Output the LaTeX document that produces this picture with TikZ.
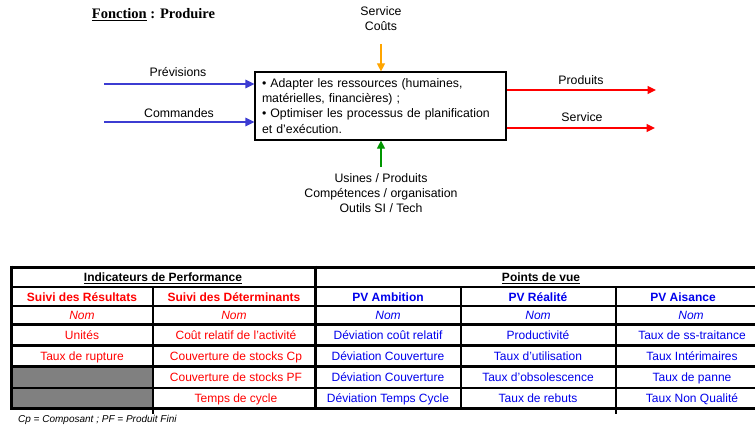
\documentclass[tikz,border=0pt]{standalone}
\usepackage{fontspec}
\setmainfont{Liberation Sans}
\newfontfamily\titlefont{Liberation Serif}
\usetikzlibrary{arrows.meta}
\definecolor{arrblue}{RGB}{60,60,210}
\definecolor{arrred}{RGB}{255,0,0}
\definecolor{arrorange}{RGB}{255,165,0}
\definecolor{arrgreen}{RGB}{0,150,0}
\definecolor{txtred}{RGB}{255,0,0}
\definecolor{txtblue}{RGB}{0,0,235}
\definecolor{cellgray}{RGB}{128,128,128}
\tikzset{
  lbl/.style={inner sep=0pt, font=\fontsize{12.3}{15}\selectfont},
  flow/.style={line width=1.5pt, -{Triangle[length=9pt,width=8.5pt]}},
  cell/.style={inner sep=0pt, anchor=base, font=\fontsize{12}{13}\selectfont},
  rc/.style={cell, text=txtred},
  bc/.style={cell, text=txtblue},
  hb/.style={font=\bfseries\fontsize{12}{13}\selectfont},
  hi/.style={font=\itshape\fontsize{12}{13}\selectfont},
  thickrule/.style={line width=3pt},
  midrule/.style={line width=2.3pt},
  thinrule/.style={line width=1.6pt},
}
\begin{document}
\begin{tikzpicture}[x=1pt,y=-1pt]
\useasboundingbox (0,0) rectangle (755,428);
\clip (0,0) rectangle (755,428);

% title
\node[inner sep=0pt, font=\titlefont\bfseries\fontsize{14.5}{16}\selectfont] (title) at (153.5,15) {\underline{Fonction} : Produire};

% central box
\node[draw, line width=1.2pt, minimum width=251pt, minimum height=68pt, inner xsep=7pt, inner ysep=0pt,
      text width=237pt, align=left, font=\fontsize{12.3}{15.2}\selectfont] (fn) at (380.5,106)
  {• Adapter les ressources (humaines,\\matérielles, financières) ;\\• Optimiser les processus de planification\\et d'exécution.};

% inputs
\coordinate (p0) at (104,84);
\coordinate (c0) at (104,122);
\draw[flow, arrblue] (p0) -- (p0 -| fn.west);
\draw[flow, arrblue] (c0) -- (c0 -| fn.west);
\node[lbl] (lprev) at (178,72) {Prévisions};
\node[lbl] (lcomm) at (179,113) {Commandes};

% outputs
\coordinate (o1) at (656,90);
\coordinate (o2) at (655,128);
\draw[flow, arrred, -{Triangle[length=8.5pt,width=8pt]}] (o1 -| fn.east) -- (o1);
\draw[flow, arrred, -{Triangle[length=8.5pt,width=8pt]}] (o2 -| fn.east) -- (o2);
\node[lbl] (lprod) at (581,80) {Produits};
\node[lbl] (lserv) at (582,117) {Service};

% control (top)
\coordinate (t0) at (381,44);
\draw[flow, arrorange, line width=1.2pt, -{Triangle[length=8pt,width=8pt]}] (t0) -- (t0 |- fn.north);
\node[lbl, align=center] (lctrl) at (381,19) {Service\\Coûts};

% mechanism (bottom)
\coordinate (b0) at (381,167);
\draw[flow, arrgreen, line width=1.2pt, -{Triangle[length=8pt,width=8pt]}] (b0) -- (b0 |- fn.south);
\node[lbl, align=center] (lmech) at (381,193) {Usines / Produits\\Compétences / organisation\\Outils SI / Tech};

% ---------- table ----------
\fill[cellgray] (11.5,366.5) rectangle (153,408);
% horizontal rules
\draw[thickrule] (10,267) -- (770,267);
\draw[midrule] (11.5,287) -- (770,287);
\draw[thinrule] (11.5,306) -- (770,306);
\draw[midrule] (11.5,324.5) -- (770,324.5);
\draw[midrule] (11.5,345.5) -- (770,345.5);
\draw[midrule] (11.5,366.5) -- (770,366.5);
\draw[midrule] (11.5,388) -- (770,388);
\draw[thickrule] (10,408) -- (770,408);
% vertical rules
\draw[thickrule] (11.5,265.5) -- (11.5,409.5);
\draw[thinrule] (153,287) -- (153,414);
\draw[thickrule] (315,265.5) -- (315,409.5);
\draw[midrule] (461,287) -- (461,409.5);
\draw[thinrule] (616,287) -- (616,414);
\draw[thickrule] (766,265.5) -- (766,409.5);

% header row
\node[cell, hb] (h1) at (163,281.5) {\underline{Indicateurs de Performance}};
\node[cell, hb] (h2) at (541,281.5) {\underline{Points de vue}};

% sub headers
\node[rc, hb] (s1) at (82,301.5) {Suivi des Résultats};
\node[rc, hb] (s2) at (234,301.5) {Suivi des Déterminants};
\node[bc, hb] (s3) at (388,301.5) {PV Ambition};
\node[bc, hb] (s4) at (538,301.5) {PV Réalité};
\node[bc, hb] (s5) at (683,301.5) {PV Aisance};

% Nom row
\node[rc, hi] (n1) at (82,319.5) {Nom};
\node[rc, hi] (n2) at (234,319.5) {Nom};
\node[bc, hi] (n3) at (388,319.5) {Nom};
\node[bc, hi] (n4) at (538,319.5) {Nom};
\node[bc, hi] (n5) at (691,319.5) {Nom};

% row 1
\node[rc] (r1a) at (82,339.5) {Unités};
\node[rc] (r1b) at (236,339.5) {Coût relatif de l'activité};
\node[bc] (r1c) at (388,339.5) {Déviation coût relatif};
\node[bc] (r1d) at (538,339.5) {Productivité};
\node[bc] (r1e) at (692,339.5) {Taux de ss-traitance};
% row 2
\node[rc] (r2a) at (82,360.5) {Taux de rupture};
\node[rc] (r2b) at (236,360.5) {Couverture de stocks Cp};
\node[bc] (r2c) at (388,360.5) {Déviation Couverture};
\node[bc] (r2d) at (538,360.5) {Taux d'utilisation};
\node[bc] (r2e) at (692,360.5) {Taux Intérimaires};
% row 3
\node[rc] (r3b) at (236,381.5) {Couverture de stocks PF};
\node[bc] (r3c) at (388,381.5) {Déviation Couverture};
\node[bc] (r3d) at (538,381.5) {Taux d'obsolescence};
\node[bc] (r3e) at (692,381.5) {Taux de panne};
% row 4
\node[rc] (r4b) at (236,402.5) {Temps de cycle};
\node[bc] (r4c) at (388,402.5) {Déviation Temps Cycle};
\node[bc] (r4d) at (538,402.5) {Taux de rebuts};
\node[bc] (r4e) at (692,402.5) {Taux Non Qualité};

% footnote
\node[inner sep=0pt, anchor=west, font=\itshape\fontsize{10}{12}\selectfont] (foot) at (18,420) {Cp = Composant ; PF = Produit Fini};
\end{tikzpicture}
\end{document}
